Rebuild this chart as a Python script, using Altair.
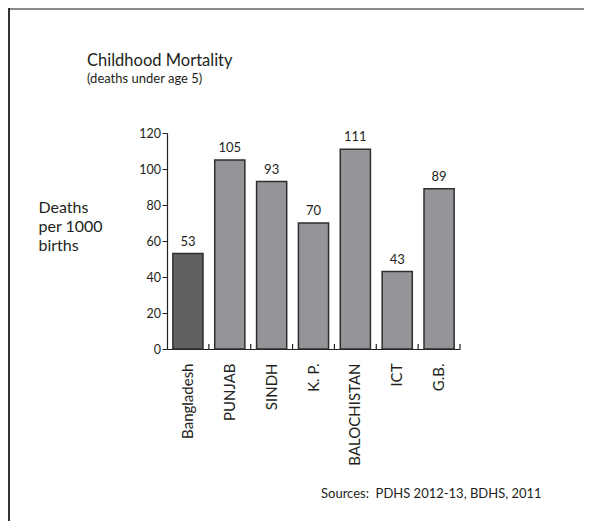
import altair as alt
import pandas as pd

regions = ["Bangladesh", "PUNJAB", "SINDH", "K. P.", "BALOCHISTAN", "ICT", "G.B."]
deaths = [53, 105, 93, 70, 111, 43, 89]
group = ["Bangladesh", "Pakistan", "Pakistan", "Pakistan", "Pakistan", "Pakistan", "Pakistan"]
y_ticks = [0, 20, 40, 60, 80, 100, 120]

df = pd.DataFrame({"region": regions, "deaths": deaths, "group": group})

FONT = "Lato"
INK = "#231f20"
W, H = 293, 216
PL, PT = 159, 125
OX, OY = 8 + PL, 8 + PT  # page position of plot origin
TOTAL_W, TOTAL_H = 576, 513

x_axis = alt.Axis(title=None, labelAngle=-90, ticks=False, labelPadding=14,
                  labelFontSize=15, labelFont=FONT, labelColor=INK,
                  domainColor=INK, domainWidth=1.2, labelOverlap=False)
y_axis = alt.Axis(values=y_ticks, grid=False, tickSize=5, tickColor=INK,
                  domainColor=INK, domainWidth=1.2, labelPadding=1.5,
                  labelOverlap=False,
                  labelFontSize=12.5, labelFont=FONT, labelColor=INK,
                  title=["Deaths", "per 1000", "births"], titleAngle=0,
                  titleAlign="left", titleBaseline="top",
                  titleX=38 - OX, titleY=66, titleFontSize=16,
                  titleFontWeight="normal", titleFont=FONT, titleColor=INK,
                  titleLineHeight=19)
x_scale = alt.Scale(paddingInner=0.28, paddingOuter=0.14)
y_scale = alt.Scale(domain=[0, 120], nice=False)

x_enc = alt.X("region:N", sort=regions, scale=x_scale, axis=x_axis)
y_enc = alt.Y("deaths:Q", scale=y_scale, axis=y_axis)

base = alt.Chart(df)

bars = base.mark_bar(stroke="#2e2e2e", strokeWidth=1.5).encode(
    x=x_enc, y=y_enc,
    color=alt.Color("group:N", scale=alt.Scale(domain=["Bangladesh", "Pakistan"],
                                               range=["#616163", "#939598"]), legend=None),
)

labels = base.mark_text(baseline="bottom", dy=-5, fontSize=13, font=FONT, color=INK).encode(
    x=x_enc, y=y_enc, text="deaths:Q")

ticks = base.mark_rule(xOffset=W / 14, color=INK, strokeWidth=1.2).encode(
    x=x_enc, y=alt.value(H), y2=alt.value(H - 5))

one = alt.Data(values=[{}])
border_top = alt.Chart(one).mark_rule(color="#8a8a8a", strokeWidth=2).encode(
    x=alt.value(-PL), x2=alt.value(TOTAL_W - PL), y=alt.value(-PT + 1))
border_left = alt.Chart(one).mark_rule(color="#333333", strokeWidth=2).encode(
    x=alt.value(-PL + 1), y=alt.value(-PT), y2=alt.value(TOTAL_H - PT))
title = alt.Chart(one).mark_text(align="left", baseline="alphabetic", fontSize=16.5,
                                 font=FONT, color=INK).encode(
    x=alt.value(87 - OX), y=alt.value(66 - OY), text=alt.value("Childhood Mortality"))
subtitle = alt.Chart(one).mark_text(align="left", baseline="alphabetic", fontSize=13,
                                    font=FONT, color=INK).encode(
    x=alt.value(87 - OX), y=alt.value(83 - OY), text=alt.value("(deaths under age 5)"))
sources = alt.Chart(one).mark_text(align="left", baseline="alphabetic", fontSize=13,
                                   font=FONT, color=INK).encode(
    x=alt.value(321 - OX), y=alt.value(498 - OY),
    text=alt.value("Sources:\u00a0 PDHS 2012-13, BDHS, 2011"))

chart = alt.layer(bars, labels, ticks, border_top, border_left, title, subtitle, sources).properties(
    width=W, height=H,
    background="white",
    autosize=alt.AutoSizeParams(type="none"),
    padding={"left": PL, "top": PT, "right": TOTAL_W - PL - W, "bottom": TOTAL_H - PT - H},
).configure_view(strokeWidth=0, stroke=None)

chart.save("out.html", embed_options={"renderer": "svg", "actions": False})
